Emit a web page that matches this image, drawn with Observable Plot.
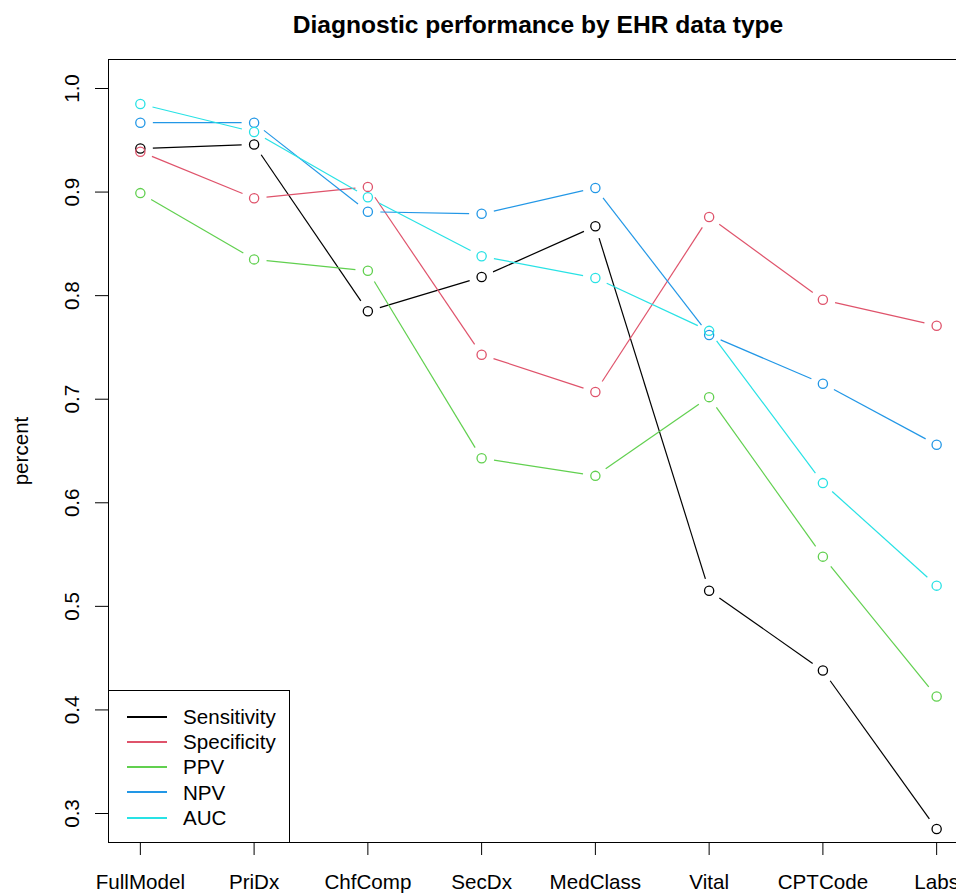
<!DOCTYPE html>
<html>
<head>
<meta charset="utf-8">
<script src="https://cdn.jsdelivr.net/npm/d3@7"></script>
<script src="https://cdn.jsdelivr.net/npm/@observablehq/plot@0.6"></script>
<style>
html, body { margin: 0; padding: 0; background: #fff; overflow: hidden; }
#wrap { position: relative; width: 970px; height: 894px; font-family: "Liberation Sans", Arial, Helvetica, sans-serif; color: #000; }
#title { box-sizing: border-box; height: 45px; margin-left: 108px; width: 860px; padding-top: 13px; line-height: 24px; font-size: 24.6px; font-weight: bold; text-align: center; white-space: nowrap; }
#legend { position: absolute; left: 108px; top: 690px; width: 182px; height: 153px; box-sizing: border-box; border: 1px solid #000; background: #fff; }
.lg-line { position: absolute; left: 18px; width: 40px; height: 2px; }
.lg-text { position: absolute; left: 74px; font-size: 20.6px; line-height: 20px; white-space: nowrap; }
</style>
</head>
<body>
<div id="wrap">
  <div id="title">Diagnostic performance by EHR data type</div>
  <div id="chart"></div>
  <div id="legend"></div>
</div>
<script>
// ---- data ----
const categories = ["FullModel", "PriDx", "ChfComp", "SecDx", "MedClass", "Vital", "CPTCode", "Labs"];
const seriesNames = ["Sensitivity", "Specificity", "PPV", "NPV", "AUC"];
const seriesColors = ["#000000", "#DF536B", "#61D04F", "#2297E6", "#28E2E5"];
const sensitivity = [0.942, 0.946, 0.785, 0.818, 0.867, 0.515, 0.438, 0.285];
const specificity = [0.939, 0.894, 0.905, 0.743, 0.707, 0.876, 0.796, 0.771];
const ppv         = [0.899, 0.835, 0.824, 0.643, 0.626, 0.702, 0.548, 0.413];
const npv         = [0.967, 0.967, 0.881, 0.879, 0.904, 0.762, 0.715, 0.656];
const auc         = [0.985, 0.958, 0.895, 0.838, 0.817, 0.766, 0.619, 0.520];
const yTicks = [0.3, 0.4, 0.5, 0.6, 0.7, 0.8, 0.9, 1.0];
const yLabel = "percent";

const seriesValues = [sensitivity, specificity, ppv, npv, auc];

// ---- layout ----
const W = 970, H = 849;
const mL = 108, mR = 2, mT = 14, mB = 52;
const xDomain = [0.72, 8.28];
const yDomain = [0.272, 1.028];

const points = [];
seriesNames.forEach((s, si) => {
  seriesValues[si].forEach((v, i) => points.push({series: s, idx: i + 1, cat: categories[i], value: v}));
});

// scales used to shorten segments (R type = "b": gaps around points)
const xs = Plot.scale({x: {type: "linear", domain: xDomain, range: [mL, W - mR]}});
const ys = Plot.scale({y: {type: "linear", domain: yDomain, range: [H - mB, mT]}});
const gap = 12.5;
const segments = [];
seriesNames.forEach((s, si) => {
  const vals = seriesValues[si];
  for (let i = 0; i < vals.length - 1; i++) {
    const ax = xs.apply(i + 1), ay = ys.apply(vals[i]);
    const bx = xs.apply(i + 2), by = ys.apply(vals[i + 1]);
    const dx = bx - ax, dy = by - ay, d = Math.hypot(dx, dy);
    if (d <= 2 * gap) continue;
    const t = gap / d;
    segments.push({
      series: s,
      x1: xs.invert(ax + dx * t), y1: ys.invert(ay + dy * t),
      x2: xs.invert(bx - dx * t), y2: ys.invert(by - dy * t)
    });
  }
});

const font = "Liberation Sans, Arial, Helvetica, sans-serif";
const fs = 20.6;

const chart = Plot.plot({
  width: W, height: H,
  marginLeft: mL, marginRight: mR, marginTop: mT, marginBottom: mB,
  style: {fontFamily: font, fontSize: fs + "px", color: "#000", background: "#fff", overflow: "visible"},
  x: {type: "linear", domain: xDomain},
  y: {type: "linear", domain: yDomain},
  color: {domain: seriesNames, range: seriesColors},
  marks: [
    Plot.frame({stroke: "#000", strokeWidth: 1}),
    Plot.axisX({ticks: categories.map((c, i) => i + 1), tickFormat: i => categories[i - 1], tickSize: 13, tickPadding: 19, fontSize: fs, stroke: "#000", fill: "#000"}),
    Plot.axisY({ticks: yTicks, tickSize: 13, tickFormat: () => "", stroke: "#000"}),
    Plot.text(yTicks, {y: d => d, text: d => d.toFixed(1), frameAnchor: "left", rotate: -90, dx: -30, lineAnchor: "bottom", textAnchor: "middle", fontSize: fs, fill: "#000"}),
    Plot.text([yLabel], {text: d => d, frameAnchor: "left", rotate: -90, dx: -81, lineAnchor: "bottom", textAnchor: "middle", fontSize: fs, fill: "#000"}),
    Plot.link(segments, {x1: "x1", y1: "y1", x2: "x2", y2: "y2", stroke: "series", strokeWidth: 1.2}),
    Plot.dot(points, {x: "idx", y: "value", stroke: "series", r: 4.6, strokeWidth: 1.3, fill: "none"})
  ]
});
document.getElementById("chart").appendChild(chart);

// ---- legend ----
const legend = document.getElementById("legend");
seriesNames.forEach((s, i) => {
  const cy = 25.7 + 25.25 * i;
  const line = document.createElement("div");
  line.className = "lg-line";
  line.style.top = (cy - 1) + "px";
  line.style.background = seriesColors[i];
  legend.appendChild(line);
  const t = document.createElement("div");
  t.className = "lg-text";
  t.style.top = (cy - 9.8) + "px";
  t.textContent = s;
  legend.appendChild(t);
});
</script>
</body>
</html>
